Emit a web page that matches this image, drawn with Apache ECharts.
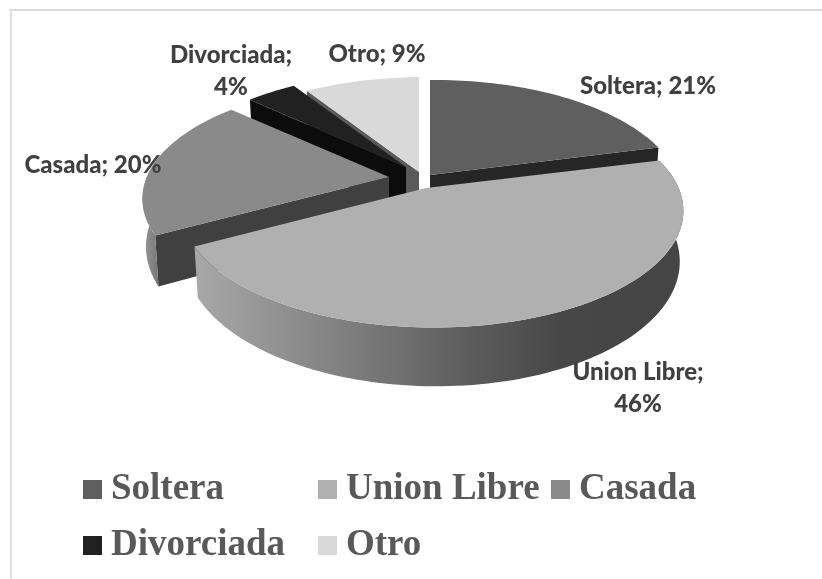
<!DOCTYPE html>
<html><head><meta charset="utf-8">
<style>html,body{margin:0;padding:0;background:#fff}#c{width:822px;height:579px}</style>
<script src="https://cdn.jsdelivr.net/npm/echarts@6/dist/echarts.min.js"></script>
</head><body><div id="c"></div>
<script>
// Data (order of the pie, clockwise from 12 o'clock)
const categories = ['Soltera','Union Libre','Casada','Divorciada','Otro'];
const percents   = [21,46,20,4,9];
// Style
const topColors  = ['#5f5f5f','#b0b0b0','#8a8a8a','#212121','#d9d9d9'];
const faceColors = ['#262626',null,'#404040','#0c0c0c','#5a5a5a'];
const apexes     = [[430,175],[426,188],[389,177],[406,167],[419,172]];
const radScale   = [0.98,1,1.01,1,1];
const labelPos   = [[648,86],[638,388],[93,165],[231,71],[377,54]];
const labelText  = categories.map((c,i)=> (c==='Union Libre'||c==='Divorciada') ? c+';\n'+percents[i]+'%' : c+'; '+percents[i]+'%');
const drawOrder  = [4,3,0,2,1];

const R=246,S=113,P=0.19,Q=0.026,H=47.5,CONVERGE=0.986;
const total = percents.reduce((a,b)=>a+b,0);
let acc=0; const ranges = percents.map(v=>{const r=[acc/total*360,(acc+v)/total*360];acc+=v;return r;});
function proj(i,deg,rad,down){
  const t=deg*Math.PI/180,X=Math.sin(t)*rad,Y=-Math.cos(t)*rad,w=1-P*Y-Q*X;
  const k=radScale[i]*R*X/w;
  return [apexes[i][0]+(down?k*CONVERGE:k), apexes[i][1]+S*Y/w+(down?H/w:0)];
}
function arc(i,a,b,down){const o=[];const n=Math.max(2,Math.ceil((b-a)/1.5));
  for(let k=0;k<=n;k++)o.push(proj(i,a+(b-a)*k/n,1,down));return o;}
function poly(points,fill){return {type:'polygon',shape:{points},style:{fill}};}
function grad(stops){return {type:'linear',x:0,y:0,x2:1,y2:0,colorStops:stops};}

function makeItem(i){
  return function(params,api){
    const [a,b]=ranges[i],children=[];
    const O0=proj(i,0,0,false),O1=proj(i,0,0,true);
    if(i===0){const e0=proj(i,b,1,false),e1=proj(i,b,1,true);children.push(poly([O0,e0,e1,O1],faceColors[i]));}
    if(i===2||i===3||i===4){const e0=proj(i,a,1,false),e1=proj(i,a,1,true);children.push(poly([O0,e0,e1,O1],faceColors[i]));}
    if(i===1){const top=arc(i,a,b,false),bot=arc(i,a,b,true).reverse();
      children.push(poly(top.concat(bot),grad([{offset:0,color:'#a8a8a8'},{offset:0.3,color:'#808080'},{offset:0.55,color:'#5e5e5e'},{offset:0.75,color:'#474747'},{offset:1,color:'#454545'}])));}
    if(i===2){const top=arc(i,a,a+40,false),bot=arc(i,a,a+40,true).reverse();
      children.push(poly(top.concat(bot),grad([{offset:0,color:'#9a9a9a'},{offset:1,color:'#6c6c6c'}])));}
    children.push(poly([O0].concat(arc(i,a,b,false)),topColors[i]));
    children.push({type:'text',z2:100,style:{x:labelPos[i][0],y:labelPos[i][1],text:labelText[i],align:'center',verticalAlign:'middle',
      fill:'#404040',font:'900 24px Lato',lineHeight:32}});
    return {type:'group',children};
  };
}
const legendCommon={orient:'vertical',icon:'rect',itemWidth:19,itemHeight:19,itemGap:19,selectedMode:false,
  textStyle:{fontFamily:'Liberation Serif',fontWeight:'bold',fontSize:37,color:'#595959',padding:[0,0,0,4]}};
const option={
  animation:false,backgroundColor:'#fff',
  graphic:[
    {type:'rect',shape:{x:9,y:9,width:813,height:2},style:{fill:'#dcdcdc'}},
    {type:'rect',shape:{x:10,y:9,width:2,height:570},style:{fill:'#e0e0e0'}}
  ],
  legend:[
    Object.assign({left:78,top:466,data:['Soltera','Divorciada']},legendCommon),
    Object.assign({left:313,top:466,data:['Union Libre','Otro']},legendCommon),
    Object.assign({left:546,top:466,data:['Casada']},legendCommon)
  ],
  series:drawOrder.map(i=>({type:'custom',name:categories[i],coordinateSystem:'none',
    itemStyle:{color:topColors[i]},data:[percents[i]],renderItem:makeItem(i),silent:true}))
};
echarts.init(document.getElementById('c')).setOption(option);
</script></body></html>
